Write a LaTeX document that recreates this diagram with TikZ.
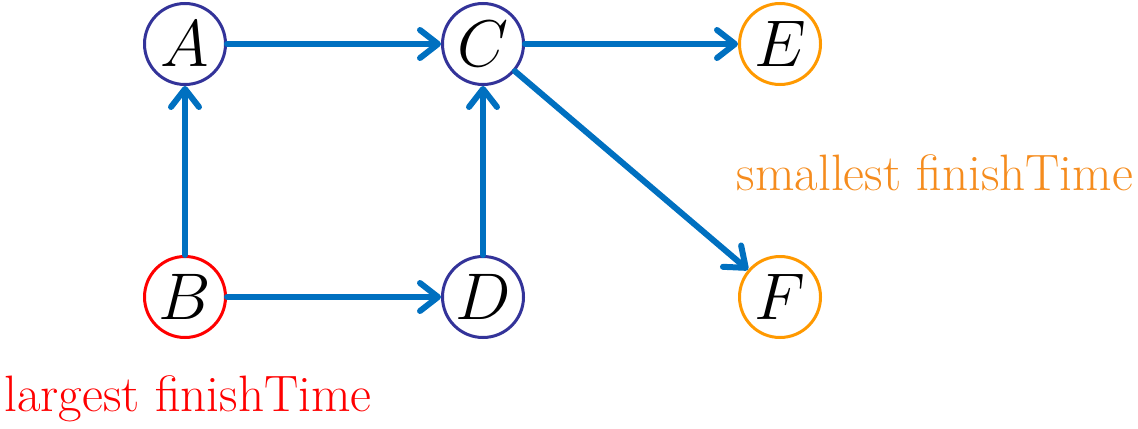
\RequirePackage{fix-cm}
\documentclass[tikz,border=0pt]{standalone}
\usetikzlibrary{arrows.meta}
\definecolor{edgeblue}{RGB}{0,112,192}
\definecolor{ringblue}{RGB}{51,51,153}
\definecolor{ringorange}{RGB}{255,153,0}
\definecolor{noteorange}{RGB}{245,140,30}
\begin{document}
\begin{tikzpicture}[x=0.5pt,y=-0.5pt,
  vertex/.style={circle,draw=ringblue,line width=1.5pt,minimum size=40.5pt,inner sep=0pt,
    font=\fontsize{33}{38}\selectfont},
  sink/.style={vertex,draw=ringorange},
  source/.style={vertex,draw=red},
  edge/.style={draw=edgeblue,line width=3pt,line cap=round,
    -{Straight Barb[length=9pt,width=14pt,round]}},
  note/.style={font=\fontsize{25.6}{30}\selectfont}]
\useasboundingbox (0,0) rectangle (1138,428);
\node[vertex] (A) at (185,44) {$A$};
\node[vertex] (C) at (483,44) {$C$};
\node[sink]   (E) at (780,44) {$E$};
\node[source] (B) at (185,297) {$B$};
\node[vertex] (D) at (483,297) {$D$};
\node[sink]   (F) at (780,297) {$F$};
\draw[edge] (A) -- (C);
\draw[edge] (C) -- (E);
\draw[edge] (B) -- (A);
\draw[edge] (B) -- (D);
\draw[edge] (D) -- (C);
\draw[edge] (C) -- (F);
\node[note,text=noteorange] (small) at (935,173) {smallest finishTime};
\node[note,text=red] (large) at (188,399) {largest finishTime};
\end{tikzpicture}
\end{document}
